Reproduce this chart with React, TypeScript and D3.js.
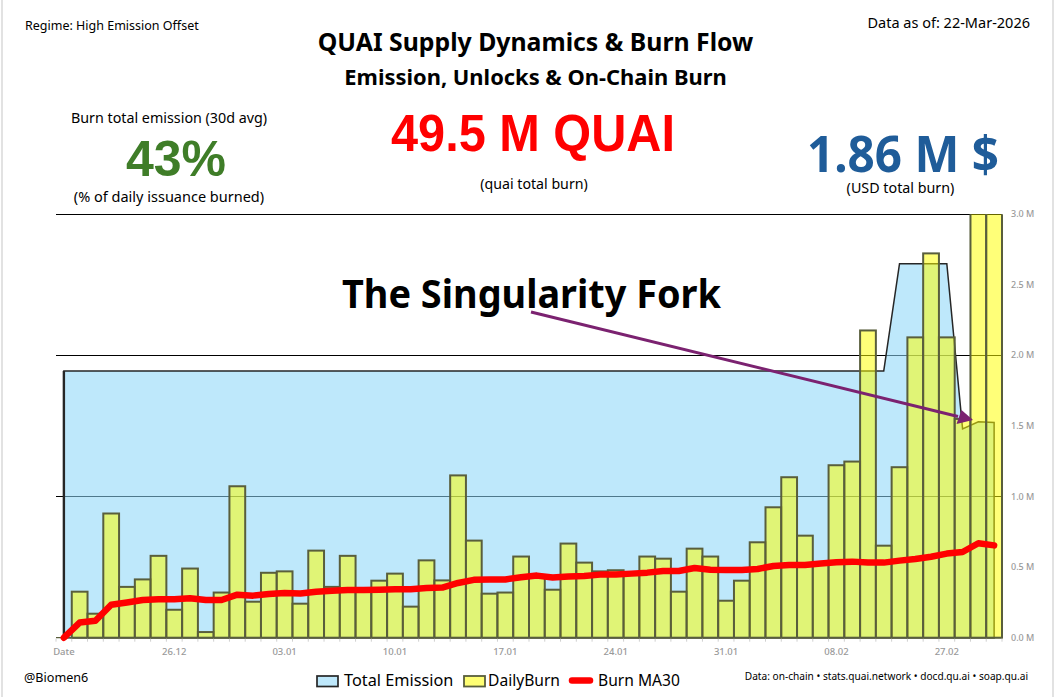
import { scaleBand, scaleLinear, area, line, curveLinear, range } from 'd3';

const W = 1058;
const H = 697;

// one entry per band, first band is the "Date" header row of the source sheet
const dailyBurn = [
  0, 0.326, 0.17, 0.88, 0.36, 0.413, 0.58, 0.198, 0.49, 0.04,
  0.32, 1.073, 0.255, 0.46, 0.47, 0.241, 0.617, 0.36, 0.58, 0.35,
  0.404, 0.454, 0.22, 0.548, 0.406, 1.15, 0.688, 0.312, 0.32, 0.575,
  0.43, 0.34, 0.667, 0.532, 0.47, 0.478, 0.46, 0.575, 0.56, 0.326,
  0.631, 0.575, 0.262, 0.404, 0.676, 0.924, 1.137, 0.723, 0.52, 1.222,
  1.248, 2.177, 0.652, 1.208, 2.128, 2.723, 2.128, 1.55, 3.4, 3.4,
];
const burnMA30 = [
  0, 0.107, 0.12, 0.234, 0.25, 0.267, 0.272, 0.272, 0.28, 0.267,
  0.267, 0.305, 0.298, 0.31, 0.317, 0.313, 0.326, 0.333, 0.338, 0.338,
  0.34, 0.343, 0.343, 0.352, 0.355, 0.388, 0.41, 0.413, 0.413, 0.428,
  0.44, 0.426, 0.433, 0.437, 0.447, 0.447, 0.454, 0.461, 0.473, 0.473,
  0.494, 0.482, 0.48, 0.48, 0.487, 0.508, 0.515, 0.515, 0.525, 0.534,
  0.539, 0.532, 0.532, 0.546, 0.558, 0.574, 0.596, 0.607, 0.669, 0.654,
];
const totalEmission = [
  1.89, 1.89, 1.89, 1.89, 1.89, 1.89, 1.89, 1.89, 1.89, 1.89,
  1.89, 1.89, 1.89, 1.89, 1.89, 1.89, 1.89, 1.89, 1.89, 1.89,
  1.89, 1.89, 1.89, 1.89, 1.89, 1.89, 1.89, 1.89, 1.89, 1.89,
  1.89, 1.89, 1.89, 1.89, 1.89, 1.89, 1.89, 1.89, 1.89, 1.89,
  1.89, 1.89, 1.89, 1.89, 1.89, 1.89, 1.89, 1.89, 1.89, 1.89,
  1.89, 1.89, 1.89, 2.65, 2.65, 2.65, 2.65, 1.48, 1.53, 1.525,
];
const dateLabels: [number, string][] = [
  [0, 'Date'], [7, '26.12'], [14, '03.01'], [21, '10.01'], [28, '17.01'],
  [35, '24.01'], [42, '31.01'], [49, '08.02'], [56, '27.02'],
];
const yTicks = [0, 0.5, 1, 1.5, 2, 2.5, 3];
const gridLines = [1, 2, 3];

const SANS = '"Noto Sans", sans-serif';
const ARIAL = '"Liberation Sans", sans-serif';

const idx = range(dailyBurn.length);
const x = scaleBand<number>().domain(idx).range([56, 1002]).padding(0);
const y = scaleLinear().domain([0, 3]).range([637.7, 214.3]);
const cx = (i: number) => x(i)! + x.bandwidth() / 2;

const emissionArea = area<number>()
  .x((_d, i) => cx(i))
  .y0(y(0))
  .y1((d) => y(d))
  .curve(curveLinear);
const maLine = line<number>()
  .x((_d, i) => cx(i))
  .y((d) => y(d));

export default function App() {
  return (
    <svg
      width={W}
      height={H}
      viewBox={`0 0 ${W} ${H}`}
      style={{ position: 'absolute', left: 0, top: 0, display: 'block', background: '#fff' }}
    >
      <defs>
        <clipPath id="plot">
          <rect x={50} y={y(3)} width={960} height={y(0) - y(3) + 4} />
        </clipPath>
      </defs>
      <rect x={2} y={-2} width={1051} height={H + 4} fill="none" stroke="#d9d9d9" strokeWidth={1.5} />

      <text x={25} y={30} fontFamily={SANS} fontSize={12.5}>Regime: High Emission Offset</text>
      <text x={1030} y={28} textAnchor="end" fontFamily={SANS} fontSize={14.5}>Data as of: 22-Mar-2026</text>
      <text x={535.5} y={51} textAnchor="middle" fontFamily={SANS} fontWeight={700} fontSize={24.8}>QUAI Supply Dynamics &amp; Burn Flow</text>
      <text x={535.5} y={85} textAnchor="middle" fontFamily={SANS} fontWeight={700} fontSize={21.9}>Emission, Unlocks &amp; On-Chain Burn</text>

      <text x={169} y={123} textAnchor="middle" fontFamily={SANS} fontSize={14.3}>Burn total emission (30d avg)</text>
      <text x={176} y={176} textAnchor="middle" fontFamily={ARIAL} fontWeight={700} fontSize={50} fill="#3f7d28">43%</text>
      <text x={169} y={202} textAnchor="middle" fontFamily={SANS} fontSize={14.5}>(% of daily issuance burned)</text>

      <text x={533} y={150.5} textAnchor="middle" fontFamily={ARIAL} fontWeight={700} fontSize={51} fill="#ff0000" textLength={284} lengthAdjust="spacingAndGlyphs">49.5 M QUAI</text>
      <text x={534} y={189} textAnchor="middle" fontFamily={SANS} fontSize={14.2}>(quai total burn)</text>

      <text x={903} y={172} textAnchor="middle" fontFamily={SANS} fontWeight={700} fontSize={51} fill="#1f5c99" textLength={192} lengthAdjust="spacingAndGlyphs">1.86 M $</text>
      <text x={900.5} y={192.5} textAnchor="middle" fontFamily={SANS} fontSize={14.3}>(USD total burn)</text>

      {gridLines.map((g) => (
        <line key={g} x1={56} x2={1002} y1={y(g)} y2={y(g)} stroke="#000" strokeWidth={1} shapeRendering="crispEdges" />
      ))}

      <path d={emissionArea(totalEmission)!} fill="rgb(139,214,248)" fillOpacity={0.56} stroke="#262626" strokeWidth={1.5} />
      <line x1={cx(0)} x2={cx(0)} y1={y(totalEmission[0])} y2={y(0)} stroke="#262626" strokeWidth={2.4} />

      <g clipPath="url(#plot)">
        {idx.slice(1).map((i) => (
          <rect
            key={i}
            x={x(i)!}
            y={y(dailyBurn[i])}
            width={x.bandwidth()}
            height={y(0) - y(dailyBurn[i])}
            fill="#ffff00"
            fillOpacity={0.53}
            stroke="#595e3c"
            strokeWidth={2}
          />
        ))}
      </g>

      <line x1={56} x2={1002} y1={y(0)} y2={y(0)} stroke="#595e3c" strokeWidth={1.2} />
      {range(61).map((i) => (
        <line key={i} x1={56 + i * x.step()} x2={56 + i * x.step()} y1={y(0) + 1} y2={y(0) + 4} stroke="#d0d0d0" />
      ))}
      {dateLabels.map(([i, label]) => (
        <text key={label} x={cx(i)} y={655} textAnchor="middle" fontFamily={SANS} fontSize={9.5} fontWeight={500} fill="#999">{label}</text>
      ))}
      {yTicks.map((t) => (
        <text key={t} x={1011} y={y(t) + 3} fontFamily={SANS} fontSize={9} fontWeight={500} fill="#999">{t.toFixed(1)} M</text>
      ))}

      <path d={maLine(burnMA30)!} fill="none" stroke="#ff0000" strokeWidth={6.5} strokeLinecap="round" strokeLinejoin="round" />

      <text x={531.5} y={308} textAnchor="middle" fontFamily={SANS} fontWeight={700} fontSize={40} textLength={379} lengthAdjust="spacingAndGlyphs">The Singularity Fork</text>
      <line x1={531} y1={312} x2={958} y2={416.5} stroke="#7b2270" strokeWidth={3} />
      <path d="M973 420 L961.5 410 L956.5 424 Z" fill="#7b2270" />

      <text x={24} y={682} fontFamily={SANS} fontSize={12.6}>@Biomen6</text>
      <rect x={317} y={676} width={21} height={10.5} fill="#bee8fb" stroke="#262626" strokeWidth={1.7} />
      <text x={344} y={686} fontFamily={SANS} fontSize={16.3}>Total Emission</text>
      <rect x={464} y={676} width={21} height={10.5} fill="#ffff73" stroke="#595e3c" strokeWidth={1.8} />
      <text x={488} y={686} fontFamily={SANS} fontSize={15.6}>DailyBurn</text>
      <line x1={572} x2={590} y1={680.5} y2={680.5} stroke="#ff0000" strokeWidth={6.5} strokeLinecap="round" />
      <text x={598} y={686} fontFamily={SANS} fontSize={15.6}>Burn MA30</text>
      <text x={1028} y={680} textAnchor="end" fontFamily={SANS} fontSize={10.15}>Data: on-chain • stats.quai.network • docd.qu.ai • soap.qu.ai</text>
    </svg>
  );
}
